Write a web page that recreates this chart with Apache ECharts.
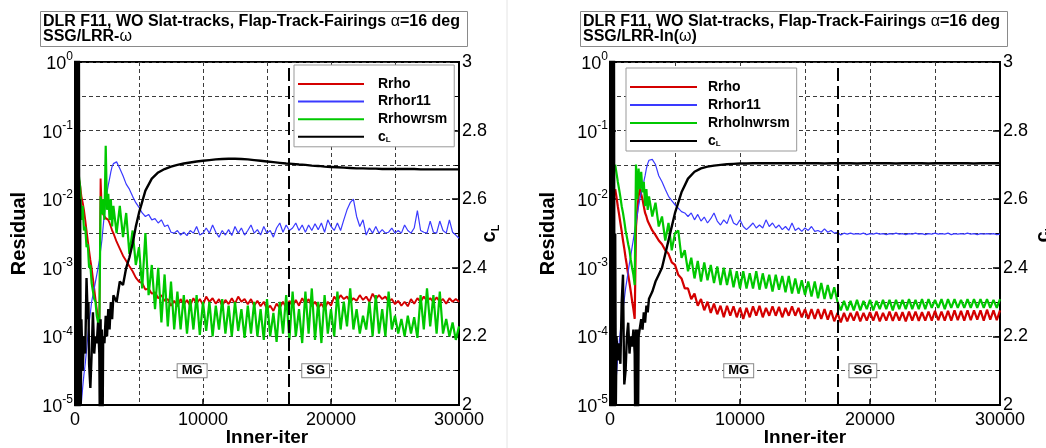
<!DOCTYPE html>
<html><head><meta charset="utf-8">
<script src="https://cdn.jsdelivr.net/npm/echarts@6/dist/echarts.min.js"></script>
<style>html,body{margin:0;padding:0;background:#fff}#c{width:1046px;height:448px}</style>
</head><body><div id="c"></div>
<script>
// ---------- iteration grid for residual histories ----------
const ITER = [300,400,500,600,700,800,900,1000,1100,1200,1300,1400,1500,1600,1700,1800,1900,2000,2100,2200,2300,2400,2500,2600,2700,2800,2900,3000,
3250,3500,3750,4000, 4250,4500,4750,5000, 5250,5500,5750,6000, 6250,6500,6750,7000, 7250,7500,7750,8000, 8250,8500,8750,9000, 9250,9500,9750,10000,
10250,10500,10750,11000, 11250,11500,11750,12000, 12250,12500,12750,13000, 13250,13500,13750,14000, 14250,14500,14750,15000, 15250,15500,15750,16000,
16250,16500,16750,17000, 17250,17500,17750,18000, 18250,18500,18750,19000, 19250,19500,19750,20000,
20250,20500,20750,21000, 21250,21500,21750,22000, 22250,22500,22750,23000, 23250,23500,23750,24000, 24250,24500,24750,25000,
25250,25500,25750,26000, 26250,26500,26750,27000, 27250,27500,27750,28000, 28250,28500,28750,29000, 29250,29500,29750,30000];

// ---------- left panel: SSG/LRR-omega ----------
const RRHO_L = [2e-2,1.6e-2,1.1e-2,9e-3,7e-3,5e-3,3.5e-3,2.5e-3,1.8e-3,1.3e-3,1e-3,7e-4,5e-4,3.5e-4,2.5e-4,1.8e-4,1.4e-4,2e-2,6.6e-3,6e-3,6.3e-3,5.3e-3,5.6e-3,5e-3,4.5e-3,4e-3,3.5e-3,3.2e-3,
2.4e-3,1.9e-3,1.5e-3,1.26e-3, 1.05e-3,8.9e-4,7.2e-4,6.3e-4, 6e-4,4.8e-4,5e-4,4.2e-4, 4.4e-4,3.6e-4,4e-4,3.3e-4,
3.5e-4,2.8e-4,3.3e-4,2.75e-4, 3.5e-4,2.9e-4,3.4e-4,2.8e-4, 3.6e-4,3e-4,3.5e-4,2.9e-4, 3.8e-4,3.2e-4,3.6e-4,3e-4,
3.5e-4,2.8e-4,3.4e-4,2.95e-4, 3.6e-4,3e-4,3.8e-4,3.2e-4, 3.5e-4,2.95e-4,3.5e-4,2.8e-4, 3.3e-4,2.75e-4,3.2e-4,2.5e-4,
2.8e-4,2.35e-4,3e-4,2.6e-4, 3.2e-4,2.6e-4,3.3e-4,2.75e-4, 3.4e-4,2.8e-4,3.6e-4,3e-4, 3.5e-4,2.75e-4,3.2e-4,2.6e-4,
3e-4,2.5e-4,3.2e-4,2.8e-4, 3.8e-4,3.3e-4,4e-4,3.5e-4, 3.8e-4,3.2e-4,3.6e-4,3.3e-4, 4e-4,3.4e-4,3.8e-4,3.2e-4,
4.2e-4,3.5e-4,4e-4,3.5e-4, 3.8e-4,3.2e-4,3.5e-4,2.95e-4, 3.3e-4,2.8e-4,3.2e-4,2.75e-4, 3.5e-4,3e-4,3.6e-4,3.2e-4,
3.8e-4,3.3e-4,3.6e-4,3.2e-4, 3.7e-4,3.2e-4,3.5e-4,3e-4, 3.6e-4,3.2e-4,3.5e-4,3.2e-4];

const RRHOR11_L = [null,null,1.1e-5,1.8e-5,2.8e-5,4e-5,6.3e-5,1e-4,1.6e-4,2.2e-4,3.2e-4,4e-4,5e-4,6.3e-4,7.9e-4,1e-3,1.26e-3,1.8e-3,2.5e-3,4e-3,6.3e-3,1e-2,1.26e-2,1.6e-2,2e-2,2.5e-2,3e-2,3.3e-2,
3.5e-2,2.8e-2,2.2e-2,1.66e-2, 1.4e-2,1.1e-2,8.9e-3,7.6e-3, 6.3e-3,5.6e-3,6e-3,5e-3, 5.2e-3,4.5e-3,5e-3,4e-3,
4.2e-3,3.3e-3,3.2e-3,3.5e-3, 3e-3,3.3e-3,2.95e-3,3.5e-3, 3.2e-3,4e-3,3e-3,3.2e-3, 3.8e-3,3.2e-3,4.2e-3,3.3e-3,
2.8e-3,3.5e-3,3e-3,3.6e-3, 2.95e-3,4e-3,3.2e-3,3.8e-3, 3e-3,3.5e-3,4.2e-3,3.2e-3, 3.6e-3,3e-3,4e-3,3.2e-3,
3.5e-3,2.8e-3,3.8e-3,4.5e-3, 3.3e-3,4.2e-3,3.5e-3,3.8e-3, 4.5e-3,3.5e-3,4.2e-3,3.3e-3, 4.2e-3,3.5e-3,4.4e-3,3.6e-3,
4.5e-3,3.3e-3,5e-3,4e-3, 3.5e-3,4.5e-3,3.5e-3,5e-3, 7e-3,8.9e-3,1e-2,5.6e-3, 4e-3,5e-3,3e-3,3.8e-3,
3.2e-3,4e-3,3.2e-3,3.6e-3, 3.2e-3,3.3e-3,3.8e-3,3.2e-3, 3.5e-3,3.2e-3,4.2e-3,3.5e-3, 3.2e-3,3.8e-3,6.8e-3,3.5e-3,
3.3e-3,3.2e-3,4.8e-3,3.3e-3, 3.2e-3,4.8e-3,3.5e-3,3.2e-3, 5e-3,3.3e-3,3e-3,2.7e-3];

const RRHOWRSM_L = [2.2e-2,1.5e-2,5e-3,8e-3,3.5e-3,4e-3,2e-3,2.2e-3,1e-3,1.1e-3,6e-4,6.3e-4,3.5e-4,3.2e-4,2e-4,1.6e-4,1.2e-4,1.1e-2,6e-3,1e-2,5e-3,6e-2,7e-3,1.2e-2,5e-3,1e-2,4e-3,8e-3,
3.2e-3,8e-3,2.8e-3,6.3e-3, 1.6e-3,3.5e-3,1.1e-3,2e-3, 5e-4,3.2e-3,4e-4,1.1e-3, 2.5e-4,1e-3,1.6e-4,8e-4,
1.4e-4,6.3e-4,1.26e-4,4.5e-4, 1.26e-4,4e-4,1.1e-4,3.5e-4, 1.26e-4,4e-4,1.05e-4,3.2e-4, 1.2e-4,3.2e-4,1e-4,2.8e-4,
1.26e-4,3.5e-4,1.1e-4,2.8e-4, 1e-4,3.2e-4,1.2e-4,2.5e-4, 9.5e-5,2.8e-4,1.1e-4,3.2e-4, 1e-4,2.5e-4,8.9e-5,3.5e-4,
1e-4,2.2e-4,8.3e-5,3.2e-4, 1.1e-4,4e-4,8.9e-5,4.5e-4, 1e-4,2.5e-4,8e-5,4.5e-4, 1.1e-4,5e-4,8.9e-5,3.2e-4,
8e-5,4e-4,1.1e-4,2.5e-4, 1e-4,4.5e-4,1.26e-4,3.2e-4, 1.4e-4,5e-4,1.26e-4,2.5e-4, 1.1e-4,2e-4,1.26e-4,3.2e-4,
1e-4,4e-4,1.1e-4,2.5e-4, 1e-4,4.5e-4,1.26e-4,2e-4, 1.1e-4,1.8e-4,1e-4,2e-4, 1.1e-4,1.9e-4,9.5e-5,4e-4,
1.26e-4,5e-4,1.4e-4,4e-4, 1.1e-4,4.5e-4,1.1e-4,1.8e-4, 1e-4,1.6e-4,8.9e-5,1.4e-4];

// ---------- right panel: SSG/LRR-ln(omega) ----------
const RRHO_R = [null,1.4e-2,1.07e-2,7.9e-3,6e-3,4.5e-3,3.4e-3,2.5e-3,1.9e-3,1.4e-3,1.07e-3,7.9e-4,6e-4,4.5e-4,3.3e-4,2.5e-4,1.8e-4,4e-3,7e-3,1.1e-2,1.4e-2,1.4e-2,1e-2,7.9e-3,6.3e-3,5.6e-3,4.8e-3,4.5e-3,
3.5e-3,3e-3,2.5e-3,2.2e-3, 1.8e-3,1.6e-3,1.2e-3,1.1e-3, 7.9e-4,7e-4,5e-4,5e-4, 3.5e-4,4.2e-4,2.8e-4,3.5e-4,
2.4e-4,3.2e-4,2.2e-4,3e-4, 2.1e-4,2.8e-4,1.9e-4,2.8e-4, 2e-4,2.75e-4,1.9e-4,2.6e-4, 1.8e-4,2.6e-4,1.9e-4,2.75e-4,
2e-4,2.8e-4,1.9e-4,2.6e-4, 2e-4,2.75e-4,2e-4,2.7e-4, 1.9e-4,2.6e-4,2e-4,2.75e-4, 2e-4,2.6e-4,1.9e-4,2.5e-4,
1.8e-4,2.5e-4,1.8e-4,2.5e-4, 1.8e-4,2.5e-4,1.75e-4,2.4e-4, 1.66e-4,2.2e-4,1.6e-4,2.2e-4, 1.66e-4,2.2e-4,1.7e-4,2.3e-4,
1.65e-4,2.2e-4,1.7e-4,2.25e-4, 1.7e-4,2.3e-4,1.65e-4,2.2e-4, 1.7e-4,2.3e-4,1.68e-4,2.25e-4, 1.7e-4,2.25e-4,1.66e-4,2.3e-4,
1.7e-4,2.3e-4,1.68e-4,2.25e-4, 1.7e-4,2.3e-4,1.7e-4,2.35e-4, 1.72e-4,2.3e-4,1.7e-4,2.35e-4, 1.7e-4,2.4e-4,1.72e-4,2.35e-4,
1.7e-4,2.4e-4,1.72e-4,2.4e-4, 1.75e-4,2.4e-4,1.7e-4,2.45e-4, 1.75e-4,2.4e-4,1.72e-4,2.4e-4];

const RRHOR11_R = [null,1.6e-5,2.8e-5,5e-5,7.9e-5,1.2e-4,1.8e-4,2.5e-4,3.5e-4,5e-4,6.6e-4,8.9e-4,1.17e-3,1.5e-3,2e-3,2.6e-3,3.5e-3,4.5e-3,6e-3,7.9e-3,1e-2,1.26e-2,1.5e-2,1.8e-2,2.2e-2,2.8e-2,3.3e-2,3.7e-2,
3.8e-2,3.2e-2,2.2e-2,1.8e-2, 1.4e-2,1.1e-2,9.5e-3,8.3e-3, 7.4e-3,6.6e-3,6.3e-3,5.6e-3, 6.3e-3,5e-3,6e-3,4.8e-3,
5.5e-3,4.5e-3,5.2e-3,6.3e-3, 4.8e-3,4.2e-3,5e-3,4.4e-3, 6e-3,4.5e-3,4.2e-3,5e-3, 4e-3,3.6e-3,4e-3,4.5e-3,
3.8e-3,4.2e-3,3.8e-3,5e-3, 4e-3,4.5e-3,3.8e-3,4.2e-3, 3.6e-3,4e-3,3.5e-3,4.5e-3, 3.5e-3,3.8e-3,3.4e-3,3.8e-3,
3.5e-3,4e-3,3.4e-3,3.5e-3, 3.3e-3,3.7e-3,3.3e-3,3.5e-3, 3.2e-3,3.3e-3,3e-3,3.2e-3, 3.1e-3,3.2e-3,3.1e-3,3.15e-3,
3.1e-3,3.2e-3,3.05e-3,3.15e-3, 3.1e-3,3.2e-3,3.1e-3,3.15e-3, 3.05e-3,3.15e-3,3.1e-3,3.2e-3, 3.1e-3,3.15e-3,3.05e-3,3.15e-3,
3.1e-3,3.2e-3,3.1e-3,3.15e-3, 3.05e-3,3.15e-3,3.1e-3,3.2e-3, 3.1e-3,3.15e-3,3.1e-3,3.2e-3, 3.05e-3,3.15e-3,3.1e-3,3.15e-3,
3.1e-3,3.2e-3,3.1e-3,3.15e-3, 3.05e-3,3.15e-3,3.1e-3,3.15e-3, 3.1e-3,3.15e-3,3.05e-3,3.1e-3];

const RRHOLNWRSM_R = [null,3.2e-2,2.4e-2,1.8e-2,1.4e-2,1.07e-2,7.9e-3,6.3e-3,4.8e-3,3.5e-3,2.8e-3,2.2e-3,1.8e-3,1.3e-3,1e-3,7.9e-4,5.6e-4,3.2e-2,1e-2,2.8e-2,1.4e-2,2.5e-2,1.26e-2,1.8e-2,7.9e-3,1.4e-2,7e-3,1.1e-2,
5.6e-3,8.9e-3,4e-3,5.6e-3, 2.5e-3,4.5e-3,1.8e-3,3.2e-3, 3.5e-3,1.4e-3,1.8e-3,8.9e-4, 1.4e-3,7e-4,1.26e-3,6.3e-4,
1.2e-3,6.6e-4,1.1e-3,6e-4, 1.05e-3,5.6e-4,1e-3,5.6e-4, 9.5e-4,5.2e-4,8.9e-4,5e-4, 8.9e-4,5e-4,8.3e-4,5e-4,
8.9e-4,4.8e-4,8.3e-4,5e-4, 7.9e-4,4.5e-4,7.9e-4,4.8e-4, 7.6e-4,4.4e-4,7.6e-4,4.2e-4, 7e-4,4.2e-4,6.6e-4,4e-4,
6.3e-4,3.8e-4,6.3e-4,3.6e-4, 6e-4,3.5e-4,5.6e-4,3.5e-4, 5.2e-4,3.2e-4,2.4e-4,3.3e-4, 2.4e-4,3.3e-4,2.4e-4,3.4e-4,
2.4e-4,3.3e-4,2.5e-4,3.4e-4, 2.4e-4,3.3e-4,2.5e-4,3.4e-4, 2.5e-4,3.4e-4,2.4e-4,3.4e-4, 2.5e-4,3.4e-4,2.5e-4,3.5e-4,
2.5e-4,3.4e-4,2.5e-4,3.5e-4, 2.5e-4,3.5e-4,2.6e-4,3.4e-4, 2.6e-4,3.5e-4,2.5e-4,3.5e-4, 2.6e-4,3.5e-4,2.6e-4,3.4e-4,
2.6e-4,3.5e-4,2.6e-4,3.5e-4, 2.6e-4,3.5e-4,2.6e-4,3.5e-4, 2.6e-4,3.4e-4,2.6e-4,3.5e-4];

// ---------- lift coefficient histories ----------
const CL_ITER = [0,50,100,150,200,250,300,350,400,450,500,600,700,800,900,1000,1050,1100,1200,1300,1400,1500,1600,1700,1800,1900,
1950,2000,2050,2100,2150,2200,2300,2400,2500,2600,2700,2800,2900,3000,3250,3500,3750,4000,4250,4500,4750,5000,
5500,6000,6500,7000,7500,8000,8500,9000,9500,10000,10500,11000,11500,12000,12500,13000,13500,14000,14500,15000,
15500,16000,16500,17000,17500,18000,18500,19000,19500,20000,20500,21000,21500,22000,22500,23000,23500,24000,24500,25000,
25500,26000,26500,27000,27500,28000,28500,29000,29500,30000];
const CL_L = [3.5,1.6,3.5,1.6,3.4,1.7,3.2,1.8,2.6,2.0,2.25, 2.1,2.2,2.15,2.37,2.25, 2.3,
2.12,2.05,2.15,2.27,2.15,2.2,2.18,2.24,2.15, 1.9,2.25,1.9,2.22,1.9,2.2,
2.18,2.26,2.2,2.28,2.22,2.3,2.25,2.32, 2.3,2.36,2.35,2.4,2.43,2.47,2.52,2.56,
2.625,2.66,2.678,2.688,2.695,2.7,2.704,2.707,2.71,2.712, 2.714,2.716,2.717,2.718,2.718,2.717,2.716,2.714,2.712,2.71,
2.708,2.706,2.704,2.703,2.701,2.7,2.698,2.697,2.695,2.694, 2.693,2.692,2.691,2.69,2.69,2.689,2.689,2.688,2.688,2.688,
2.688,2.688,2.688,2.687,2.687,2.687,2.687,2.687,2.687,2.687];
const CL_R = [3.5,1.6,3.5,1.6,3.4,1.7,3.2,1.8,2.5,2.0,2.2, 2.13,2.18,2.12,2.3,2.38, 2.2,
2.06,2.1,2.2,2.24,2.15,2.2,2.17,2.22,2.15, 1.9,2.22,1.9,2.22,1.9,2.2,
2.2,2.25,2.22,2.27,2.24,2.29,2.27,2.31, 2.33,2.36,2.38,2.4,2.44,2.48,2.52,2.56,
2.62,2.66,2.68,2.69,2.695,2.698,2.7,2.702,2.703,2.704, 2.704,2.705,2.705,2.705,2.705,2.705,2.705,2.705,2.705,2.705,
2.705,2.705,2.704,2.705,2.705,2.705,2.705,2.704,2.705,2.705, 2.705,2.705,2.705,2.704,2.705,2.705,2.705,2.705,2.704,2.705,
2.705,2.705,2.705,2.705,2.705,2.704,2.705,2.705,2.705,2.705];

// ---------- annotations (data coordinates) ----------
const SWITCH_ITER = [16700, 17500];          // MG -> SG switch, left / right
const MG_ITER = [9150, 9900];
const SG_ITER = [18800, 19450];
const LABEL_RESIDUAL = 3.16e-5;              // height of MG/SG boxes
const X_RANGE = [0, 30000];
const RES_RANGE = [1e-5, 1];
const CL_RANGE = [2, 3];

[RRHO_L,RRHOR11_L,RRHOWRSM_L,RRHO_R,RRHOR11_R,RRHOLNWRSM_R].forEach((a,i)=>{ if(a.length!==ITER.length) throw new Error('len '+i+' '+a.length); });
[CL_L,CL_R].forEach((a,i)=>{ if(a.length!==CL_ITER.length) throw new Error('cl len '+i+' '+a.length); });

const FONT = '"Liberation Sans", Arial, Helvetica, sans-serif';
const RED = '#d40000', BLUE = '#3a3aff', GREEN = '#00c800', BLACK = '#000000';
const GRIDLINE = {color:'#3c3c3c', type:[4,3], width:1};

function pairs(xs, ys){ const out=[]; for(let i=0;i<xs.length;i++){ if(ys[i]!==null) out.push([xs[i], ys[i]]); } return out; }

function makeX(gi){
  return {type:'value', gridIndex:gi, min:X_RANGE[0], max:X_RANGE[1], interval:10000,
    name:'Inner-iter', nameLocation:'middle', nameGap:23, nameMoveOverlap:false,
    nameTextStyle:{fontFamily:FONT, fontSize:19, fontWeight:'bold', color:'#000', lineHeight:19},
    axisLine:{show:true, onZero:false, lineStyle:{color:'#000', width:2}},
    axisTick:{show:true, inside:true, length:6, lineStyle:{color:'#000', width:1.5}},
    axisLabel:{fontFamily:FONT, fontSize:18, color:'#000', margin:6, showMinLabel:true, showMaxLabel:true,
      formatter: v => String(v)},
    splitLine:{show:true, lineStyle:GRIDLINE},
    minorTick:{show:false, splitNumber:2},
    minorSplitLine:{show:true, lineStyle:GRIDLINE}};
}
function makeLog(gi, gap){
  return {type:'log', logBase:10, gridIndex:gi, min:RES_RANGE[0], max:RES_RANGE[1], position:'left',
    name:'Residual', nameLocation:'middle', nameGap:gap, nameRotate:90,
    nameTextStyle:{fontFamily:FONT, fontSize:20, fontWeight:'bold', color:'#000'},
    axisLine:{show:true, lineStyle:{color:'#000', width:2}},
    axisTick:{show:true, inside:true, length:6, lineStyle:{color:'#000', width:1.5}},
    axisLabel:{margin:2, showMinLabel:true, showMaxLabel:true,
      formatter: v => '{b|10}{s|' + Math.round(Math.log10(v)) + '}',
      rich:{b:{fontFamily:FONT, fontSize:18, color:'#000', lineHeight:22, verticalAlign:'bottom'},
            s:{fontFamily:FONT, fontSize:12, color:'#000', lineHeight:12, verticalAlign:'top'}}},
    splitLine:{show:false}};
}
function makeCL(gi, gap){
  return {type:'value', gridIndex:gi, min:CL_RANGE[0], max:CL_RANGE[1], interval:0.2, position:'right',
    name:'{c|c}{l|L}', nameLocation:'middle', nameGap:gap, nameRotate:90, nameMoveOverlap:false,
    nameTextStyle:{rich:{c:{fontFamily:FONT, fontSize:20, fontWeight:'bold', color:'#000', lineHeight:24, verticalAlign:'middle'},
                         l:{fontFamily:FONT, fontSize:11, fontWeight:'bold', color:'#000', lineHeight:11, verticalAlign:'bottom'}}},
    axisLine:{show:true, lineStyle:{color:'#000', width:2}},
    axisTick:{show:true, inside:true, length:7, lineStyle:{color:'#000', width:1.5}},
    minorTick:{show:true, splitNumber:2, length:4, lineStyle:{color:'#000', width:1}},
    axisLabel:{fontFamily:FONT, fontSize:18, color:'#000', margin:3, showMinLabel:true, showMaxLabel:true,
      formatter: v => String(Math.round(v*10)/10)},
    splitLine:{show:true, lineStyle:GRIDLINE},
    minorSplitLine:{show:true, lineStyle:GRIDLINE}};
}
function titleBox(left, sub){
  return {left:left, top:12, padding:[2,8,2,3], borderColor:'#8a8a8a', borderWidth:1, backgroundColor:'#fff',
    text:'{t|DLR F11, WO Slat-tracks, Flap-Track-Fairings }{g|α}{t|=16 deg}\n' + sub,
    textStyle:{rich:{t:{fontFamily:FONT, fontSize:16, fontWeight:'bold', color:'#000', lineHeight:15},
                     g:{fontFamily:FONT, fontSize:16, fontWeight:'normal', color:'#000', lineHeight:15}}}};
}
function legendBox(left, top, names, gapText, pitchGap, iconW){
  return {left:left, top:top, orient:'vertical', itemWidth:iconW, itemHeight:14, itemGap:pitchGap,
    padding:[12,7,3,3], backgroundColor:'#fff', borderColor:'#999', borderWidth:1, selectedMode:false,
    data:names, itemStyle:{opacity:0}, lineStyle:{width:2},
    formatter: n => n === 'cL' ? '{c|c}{l|L}' : n,
    textStyle:{fontFamily:FONT, fontSize:14, fontWeight:'bold', color:'#000', padding:[0,0,0,gapText],
      rich:{c:{fontFamily:FONT, fontSize:14, fontWeight:'bold', color:'#000'},
            l:{fontFamily:FONT, fontSize:8, fontWeight:'bold', color:'#000', verticalAlign:'bottom', lineHeight:14}}}};
}
function line(name, xi, yi, xs, ys, color, width){
  return {type:'line', name:name, xAxisIndex:xi, yAxisIndex:yi, data:pairs(xs, ys), symbol:'none', showSymbol:false,
    lineStyle:{color:color, width:width}, itemStyle:{color:color}, silent:true, animation:false, clip:true};
}
function boxLabel(){
  return {show:true, position:'inside', formatter: p => p.name, fontFamily:FONT, fontSize:13, fontWeight:'bold', color:'#000',
    backgroundColor:'#fff', borderColor:'#888', borderWidth:1, padding:[1,4,0,4], lineHeight:12};
}
function annotated(s, panel){
  s.markLine = {silent:true, symbol:['none','none'], label:{show:false}, animation:false,
    lineStyle:{color:'#000', type:[13,5], width:2}, data:[{xAxis:SWITCH_ITER[panel]}]};
  s.markPoint = {silent:true, symbol:'rect', symbolSize:1, itemStyle:{color:'rgba(0,0,0,0)'}, animation:false,
    label:boxLabel(),
    data:[{name:'MG', coord:[MG_ITER[panel], LABEL_RESIDUAL]}, {name:'SG', coord:[SG_ITER[panel], LABEL_RESIDUAL]}]};
  return s;
}

const chart = echarts.init(document.getElementById('c'), null, {renderer:'canvas'});
chart.setOption({
  animation:false,
  backgroundColor:'#fff',
  title:[titleBox(40, '{t|SSG/LRR-}{g|ω}'), titleBox(580, '{t|SSG/LRR-ln(}{g|ω}{t|)}')],
  legend:[legendBox(294, 65, ['Rrho','Rrhor11','Rrhowrsm','cL'], 9, 3.6, 66),
          legendBox(626, 68, ['Rrho','Rrhor11','Rrholnwrsm','cL'], 6, 4, 67)],
  grid:[{left:75, top:62, width:384, height:343, show:true, borderColor:'#000', borderWidth:2, backgroundColor:'transparent', containLabel:false, outerBoundsMode:'none'},
        {left:610, top:62, width:390, height:343, show:true, borderColor:'#000', borderWidth:2, backgroundColor:'transparent', containLabel:false, outerBoundsMode:'none'}],
  xAxis:[makeX(0), makeX(1)],
  yAxis:[makeLog(0, 46), makeCL(0, 18), makeLog(1, 52), makeCL(1, 31)],
  graphic:[{type:'line', shape:{x1:507, y1:0, x2:507, y2:448}, style:{stroke:'#e4e4e4', lineWidth:1}, silent:true}],
  series:[
    line('Rrho', 0, 0, ITER, RRHO_L, RED, 1.9),
    line('Rrhor11', 0, 0, ITER, RRHOR11_L, BLUE, 1.2),
    annotated(line('Rrhowrsm', 0, 0, ITER, RRHOWRSM_L, GREEN, 2.2), 0),
    line('cL', 0, 1, CL_ITER, CL_L, BLACK, 2.4),
    line('Rrho', 1, 2, ITER, RRHO_R, RED, 2.2),
    line('Rrhor11', 1, 2, ITER, RRHOR11_R, BLUE, 1.2),
    annotated(line('Rrholnwrsm', 1, 2, ITER, RRHOLNWRSM_R, GREEN, 2.2), 1),
    line('cL', 1, 3, CL_ITER, CL_R, BLACK, 2.4)
  ]
});
</script></body></html>
